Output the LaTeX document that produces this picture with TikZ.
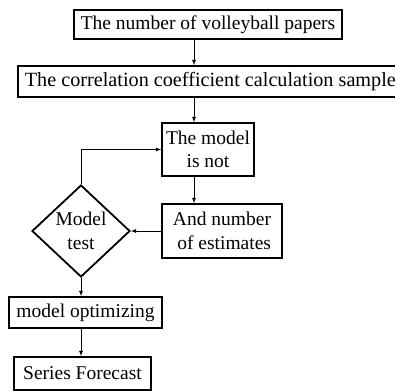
\documentclass[tikz,border=0pt]{standalone}
\usepackage{fontspec}
\setmainfont{Liberation Serif}
\usetikzlibrary{shapes.geometric}

\begin{document}
\begin{tikzpicture}[x=1pt, y=-1pt,
    every node/.append style={draw, line width=1.8pt, inner sep=0pt,
        font=\fontsize{19.5}{23.5}\selectfont},
    box/.style={rectangle, align=center},
    test/.style={diamond, align=center, minimum width=98pt, minimum height=92pt}]
        \clip (0,0) rectangle (395,391);
        \node [box, minimum width=268pt, minimum height=29pt] (P) at (208,24.5) {The number of volleyball papers};
        \node [box, anchor=west, inner xsep=7pt, minimum height=31pt,
            font=\fontsize{20.2}{24}\selectfont] (S) at (17,81.5) {The correlation coefficient calculation sample};
        \node [box, minimum width=92pt, minimum height=53pt] (M) at (208,149.5) {The model\\is not};
        \node [box, align=right, minimum width=120pt, minimum height=54pt] (E) at (222,231) {And number\\of estimates};
        \node [test] (T) at (81,231) {Model\\test};
        \node [box, minimum width=153pt, minimum height=31pt] (O) at (85.5,312.5) {model optimizing};
        \node [box, minimum width=137pt, minimum height=33pt] (F) at (82.5,373.5) {Series Forecast};
        \coordinate (ax) at (194,0);

        \draw [-latex, line width=0.8pt] (P.south -| ax) -- (S.north -| ax);
        \draw [-latex, line width=0.8pt] (S.south -| ax) -- (M.north -| ax);
        \draw [-latex, line width=0.8pt] (M.south -| ax) -- (E.north -| ax);
        \draw [-latex, line width=0.8pt] (E.west) -- (T.east);
        \draw [-latex, line width=0.8pt] (T.north) |- (M.west);
        \draw [-latex, line width=0.8pt] (T.south) -- (O.north -| T.south);
        \draw [-latex, line width=0.8pt] (O.south -| T.south) -- (F.north -| T.south);
    \end{tikzpicture}
\end{document}
